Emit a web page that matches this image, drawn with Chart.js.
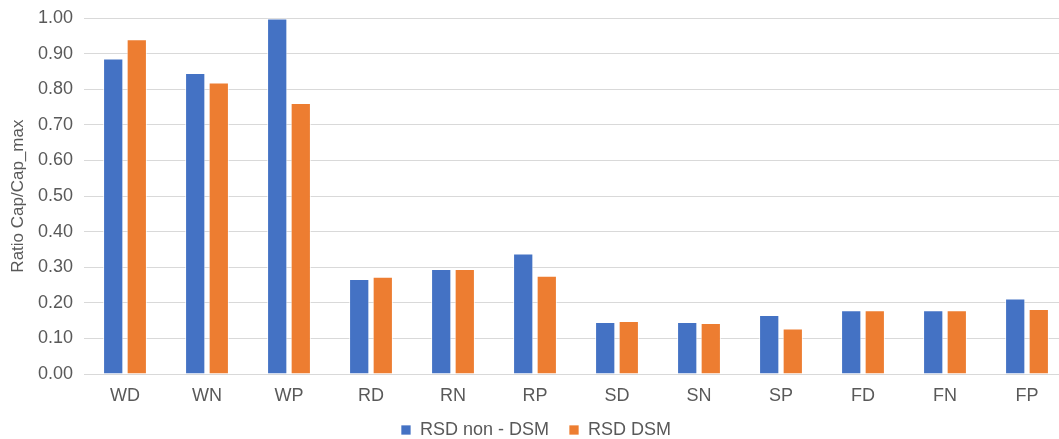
<!DOCTYPE html>
<html>
<head>
<meta charset="utf-8">
<script src="https://cdn.jsdelivr.net/npm/chart.js@4"></script>
<style>
  html, body { margin: 0; padding: 0; background: #fff; overflow: hidden; }
  #wrap { width: 1078px; height: 439px; }
</style>
</head>
<body>
<div id="wrap"><canvas id="chart" width="1078" height="439"></canvas></div>
<script>
// categorías y valores
const categories = ['WD', 'WN', 'WP', 'RD', 'RN', 'RP', 'SD', 'SN', 'SP', 'FD', 'FN', 'FP'];
const rsdNonDsm = [0.887, 0.846, 0.999, 0.267, 0.295, 0.339, 0.146, 0.146, 0.166, 0.179, 0.179, 0.212];
const rsdDsm = [0.941, 0.819, 0.762, 0.273, 0.295, 0.276, 0.149, 0.143, 0.128, 0.179, 0.179, 0.183];
const seriesNames = ['RSD non - DSM', 'RSD DSM'];
const yTitle = 'Ratio Cap/Cap_max';

const textColor = '#595959';
const gridColor = '#d9d9d9';
const fontFamily = 'Arial, "Liberation Sans", sans-serif';

const ctx = document.getElementById('chart').getContext('2d');
new Chart(ctx, {
    type: 'bar',
    data: {
        labels: categories,
        datasets: [
            {
                label: seriesNames[0],
                data: rsdNonDsm,
                backgroundColor: '#4472c4',
                borderColor: 'rgba(255,255,255,0.7)',
                borderWidth: 1
            },
            {
                label: seriesNames[1],
                data: rsdDsm,
                backgroundColor: '#ed7d31',
                borderColor: 'rgba(255,255,255,0.7)',
                borderWidth: 1
            }
        ]
    },
    options: {
        responsive: false,
        animation: false,
        // el gráfico original es algo más ancho que la ventana, se corta a la derecha
        layout: { padding: { top: 0, right: 10, left: 4, bottom: -10 } },
        datasets: {
            bar: { categoryPercentage: 0.575, barPercentage: 0.86 }
        },
        scales: {
            x: {
                grid: { display: false },
                border: { display: true, color: gridColor, width: 1 },
                ticks: { color: textColor, font: { family: fontFamily, size: 18 }, padding: 3 },
                afterFit: (scale) => { scale.height = 27; }
            },
            y: {
                min: 0,
                max: 1,
                grid: { color: gridColor, lineWidth: 1, drawTicks: false },
                border: { display: false },
                ticks: {
                    stepSize: 0.1,
                    color: textColor,
                    padding: 11,
                    font: { family: fontFamily, size: 18, lineHeight: 0.8 },
                    callback: (v) => Number(v).toFixed(2)
                },
                title: {
                    display: true,
                    text: yTitle,
                    color: textColor,
                    font: { family: fontFamily, size: 17 },
                    padding: { top: 4, bottom: 2 }
                },
                afterFit: (scale) => { scale.width = 80; }
            }
        },
        plugins: {
            legend: {
                position: 'bottom',
                labels: {
                    color: textColor,
                    font: { family: fontFamily, size: 18 },
                    boxWidth: 10,
                    boxHeight: 10,
                    padding: 20
                }
            },
            tooltip: { enabled: false }
        }
    }
});
</script>
</body>
</html>
